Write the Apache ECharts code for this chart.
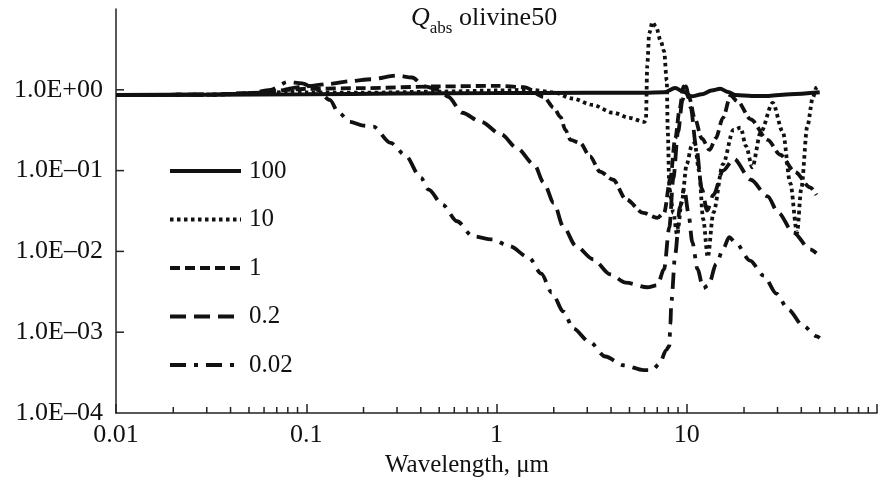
<!DOCTYPE html>
<html><head><meta charset="utf-8">
<script src="https://cdn.jsdelivr.net/npm/echarts@6/dist/echarts.min.js"></script>
<style>html,body{margin:0;padding:0;background:#fff}#c{width:880px;height:483px}</style>
</head><body><div id="c"></div>
<script>
// Legend / series names (particle radius, um)
const seriesNames = ['100', '10', '1', '0.2', '0.02'];

// Wavelength (um) and Q_abs for each particle size
const wl100 = [0.01, 0.03, 0.1, 0.3, 1, 3, 6, 7.6, 8.7, 9.6, 10.6, 12, 13.5, 15, 16.5, 18, 22, 27, 35, 50];
const q100  = [0.86, 0.87, 0.88, 0.9, 0.91, 0.92, 0.92, 0.93, 1.05, 0.95, 0.83, 0.88, 0.98, 1.03, 0.94, 0.86, 0.84, 0.84, 0.88, 0.93];

const wl10 = [0.01, 0.03, 0.06, 0.08, 0.1, 0.2, 0.5, 1, 1.5, 2.0, 2.5, 3.2, 4.1, 5, 6.0, 6.1, 6.2, 6.35, 6.6, 6.9, 7.3, 7.6, 7.85, 7.95, 8.1, 8.5, 8.9, 9.4, 10.0, 10.6, 11.0, 11.6, 12.2, 12.9, 13.8, 15.5, 17.6, 19.2, 20.5, 22.1, 24.5, 28.3, 32, 35, 38, 40, 43, 46, 48, 50];
const q10  = [0.86, 0.87, 0.9, 0.95, 0.93, 0.92, 0.95, 0.98, 1.0, 0.93, 0.78, 0.65, 0.52, 0.45, 0.40, 0.42, 2.0, 5.0, 6.9, 6.0, 4.0, 3.0, 1.3, 0.3, 0.06, 0.03, 0.016, 0.04, 0.12, 0.2, 0.22, 0.1, 0.025, 0.0085, 0.03, 0.12, 0.32, 0.34, 0.2, 0.11, 0.3, 0.69, 0.3, 0.07, 0.017, 0.06, 0.35, 0.8, 1.06, 1.15];

const wl1 = [0.01, 0.03, 0.06, 0.08, 0.1, 0.2, 0.5, 1, 1.4, 1.77, 2.0, 2.17, 2.3, 2.45, 2.75, 3.1, 3.5, 4.1, 4.8, 5.9, 7.0, 7.6, 8.2, 8.7, 9.2, 9.6, 10.3, 11, 12, 13.2, 14.2, 15.5, 17, 18.5, 21.7, 26.6, 31, 37, 44.5, 48];
const q1  = [0.86, 0.87, 0.92, 1.0, 1.03, 1.05, 1.1, 1.12, 1.08, 0.82, 0.60, 0.46, 0.32, 0.24, 0.22, 0.15, 0.097, 0.077, 0.044, 0.030, 0.026, 0.03, 0.08, 0.25, 0.6, 1.1, 0.8, 0.45, 0.25, 0.18, 0.25, 0.45, 0.85, 0.72, 0.43, 0.24, 0.157, 0.097, 0.062, 0.05];

const wl02 = [0.01, 0.03, 0.06, 0.1, 0.13, 0.17, 0.22, 0.3, 0.36, 0.42, 0.5, 0.557, 0.66, 0.83, 1.06, 1.28, 1.58, 1.77, 2.0, 2.25, 2.62, 3.22, 3.96, 4.78, 6.2, 7.0, 7.6, 8.1, 8.5, 9.0, 9.5, 9.9, 10.5, 11.2, 12, 12.8, 13.8, 15.5, 17.7, 21.7, 26.6, 30.3, 36.3, 44.5, 48];
const q02  = [0.86, 0.87, 0.92, 1.1, 1.18, 1.28, 1.35, 1.5, 1.42, 1.1, 1.0, 0.82, 0.52, 0.40, 0.28, 0.19, 0.119, 0.071, 0.040, 0.020, 0.0116, 0.0080, 0.0052, 0.0041, 0.0036, 0.0038, 0.006, 0.02, 0.08, 0.3, 0.75, 1.1, 0.6, 0.2, 0.06, 0.032, 0.05, 0.1, 0.14, 0.077, 0.048, 0.030, 0.0171, 0.0106, 0.0095];

const wl002 = [0.01, 0.03, 0.05, 0.065, 0.08, 0.095, 0.114, 0.133, 0.148, 0.17, 0.2, 0.225, 0.278, 0.33, 0.40, 0.44, 0.52, 0.62, 0.75, 0.95, 1.17, 1.48, 1.72, 1.95, 2.25, 2.53, 3.1, 3.73, 4.65, 5.94, 6.6, 7.2, 7.8, 8.1, 8.2, 8.3, 8.7, 9.2, 9.7, 10.2, 10.7, 11.4, 12.2, 13, 14.3, 15.6, 16.7, 18, 21.5, 25.4, 29.6, 34.2, 40.9, 48.3, 50];
const q002  = [0.86, 0.87, 0.9, 1.0, 1.25, 1.2, 1.0, 0.75, 0.52, 0.4, 0.36, 0.35, 0.22, 0.157, 0.082, 0.058, 0.038, 0.0236, 0.0154, 0.0141, 0.0116, 0.0084, 0.0053, 0.0031, 0.0018, 0.00111, 0.00075, 0.0005, 0.00039, 0.00034, 0.00034, 0.00041, 0.0006, 0.00068, 0.00126, 0.0024, 0.0093, 0.035, 0.06, 0.03, 0.013, 0.006, 0.0035, 0.0038, 0.007, 0.011, 0.015, 0.013, 0.0077, 0.005, 0.003, 0.0019, 0.0012, 0.00089, 0.00085];

// Tick labels (by decade)
const xTickValues = [0.01, 0.1, 1, 10, 100];
const xTickLabels = ['0.01', '0.1', '1', '10', ''];
const yTickValues = [1e-4, 1e-3, 1e-2, 1e-1, 1, 10];
const yTickLabels = ['1.0E\u201304', '1.0E\u201303', '1.0E\u201302', '1.0E\u201301', '1.0E+00', ''];

const FONT = 'Liberation Serif';
const INK = '#111';

function zip(a, b) { return a.map((v, i) => [v, b[i]]); }
function labelFor(values, labels, v) {
  const e = Math.round(Math.log10(v));
  for (let i = 0; i < values.length; i++) {
    if (Math.round(Math.log10(values[i])) === e) return labels[i];
  }
  return '';
}

const styles = [
  { type: 'solid', width: 4 },
  { type: [3.5, 3.5], width: 3.8 },
  { type: [10, 5], width: 3.8 },
  { type: [16, 8], width: 3.8 },
  { type: [16, 8, 4, 8], width: 3.8 }
];
const dataSets = [zip(wl100, q100), zip(wl10, q10), zip(wl1, q1), zip(wl02, q02), zip(wl002, q002)];

const chart = echarts.init(document.getElementById('c'), null, { renderer: 'canvas' });
const option = {
  animation: false,
  backgroundColor: '#fff',
  title: {
    text: '{q|Q}{s|abs}{t| olivine50}',
    left: 411, top: 9, padding: 0,
    textStyle: {
      fontWeight: 'normal', fontFamily: FONT,
      rich: {
        q: { fontFamily: FONT, fontWeight: 'normal', fontStyle: 'italic', fontSize: 26, lineHeight: 28, color: INK, padding: [0, 0, 6, 0], verticalAlign: 'bottom' },
        s: { fontFamily: FONT, fontWeight: 'normal', fontSize: 17, lineHeight: 18, color: INK, verticalAlign: 'bottom' },
        t: { fontFamily: FONT, fontWeight: 'normal', fontSize: 26, lineHeight: 28, color: INK, padding: [0, 0, 6, 0], verticalAlign: 'bottom' }
      }
    }
  },
  legend: {
    orient: 'vertical', left: 168, top: 158, padding: 0,
    itemWidth: 71, itemHeight: 14, itemGap: 22.5,
    data: seriesNames,
    itemStyle: { opacity: 0 },
    lineStyle: { width: 4 },
    textStyle: { fontFamily: FONT, fontSize: 25, lineHeight: 26, color: INK, padding: [0, 0, 0, 3] }
  },
  grid: { left: 116, right: -8, top: 9, bottom: 69, containLabel: false },
  xAxis: {
    type: 'log', logBase: 10, min: 0.01, max: 100,
    name: 'Wavelength, \u03bcm', nameLocation: 'middle', nameGap: 40,
    nameTextStyle: { fontFamily: FONT, fontSize: 25, color: INK, padding: [0, 59, 0, 0] },
    axisLine: { show: true, onZero: false, lineStyle: { color: '#222', width: 1.5 } },
    axisTick: { show: true, inside: true, length: 9, lineStyle: { color: '#222', width: 1.5 } },
    axisLabel: { margin: 9, fontFamily: FONT, fontSize: 26, color: INK,
      formatter: v => labelFor(xTickValues, xTickLabels, v) },
    splitLine: { show: false }
  },
  yAxis: {
    type: 'log', logBase: 10, min: 1e-4, max: 10,
    axisLine: { show: true, onZero: false, lineStyle: { color: '#222', width: 1.5 } },
    axisTick: { show: false },
    axisLabel: { margin: 13, fontFamily: FONT, fontSize: 26, color: INK,
      formatter: v => labelFor(yTickValues, yTickLabels, v) },
    splitLine: { show: false }
  },
  series: seriesNames.map((n, i) => ({
    name: n, type: 'line', data: dataSets[i],
    symbol: 'none', smooth: 0.3, smoothMonotone: 'x',
    lineStyle: Object.assign({ color: INK }, styles[i]),
    itemStyle: { color: INK },
    z: 10 - i
  }))
};
chart.setOption(option);

// Minor x ticks (2..9 per decade) and y ticks, positioned through the axis scales
const g = [];
const yBase = chart.convertToPixel({ yAxisIndex: 0 }, 1e-4);
for (let d = -2; d <= 1; d++) {
  for (let k = 2; k <= 9; k++) {
    const px = chart.convertToPixel({ xAxisIndex: 0 }, k * Math.pow(10, d));
    g.push({ type: 'line', silent: true, shape: { x1: px, y1: yBase, x2: px, y2: yBase - 6 },
      style: { stroke: '#222', lineWidth: 1.5 } });
  }
}
const xBase = chart.convertToPixel({ xAxisIndex: 0 }, 0.01);
for (let e = -3; e <= 0; e++) {
  const py = chart.convertToPixel({ yAxisIndex: 0 }, Math.pow(10, e));
  g.push({ type: 'line', silent: true, shape: { x1: xBase, y1: py, x2: xBase + 8, y2: py },
    style: { stroke: '#222', lineWidth: 1.5 } });
}
chart.setOption({ graphic: g });
</script>
</body></html>
